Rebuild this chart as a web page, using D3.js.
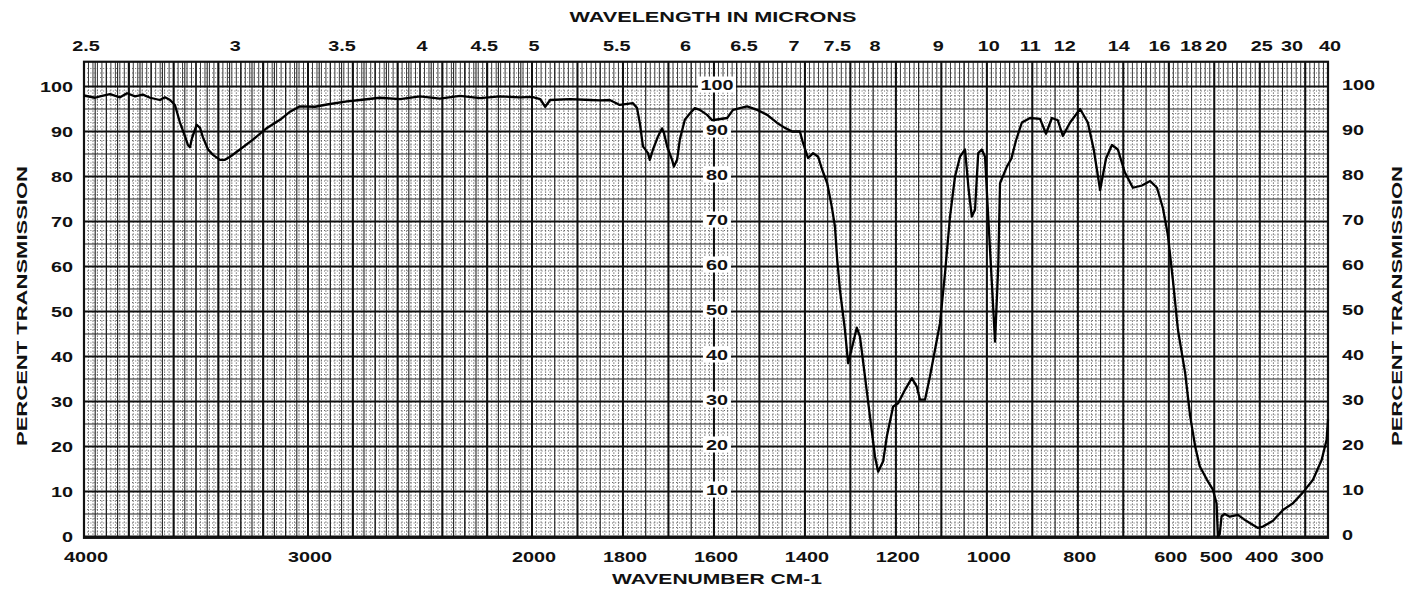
<!DOCTYPE html>
<html><head><meta charset="utf-8">
<script src="https://cdn.jsdelivr.net/npm/d3@7"></script>
<style>body{margin:0;background:#fff} svg{display:block}</style>
</head><body><svg id="c" width="1405" height="590"></svg>
<script>
// ---------- DATA ----------
const wavenumbers = [4000,3951,3929,3884,3839,3808,3772,3737,3705,3661,3638,3616,3594,3571,3549,3536,3527,3518,3497,3482,3469,3446,3424,3393,3371,3348,3304,3246,3183,3125,3080,3036,2969,2915,2826,2768,2679,2589,2500,2411,2321,2232,2143,2054,2000,1982,1971,1960,1916,1872,1850,1829,1807,1778,1769,1763,1756,1745,1741,1734,1723,1714,1710,1703,1692,1688,1681,1675,1664,1653,1642,1631,1615,1604,1571,1558,1543,1527,1505,1483,1461,1444,1428,1411,1404,1393,1382,1371,1362,1351,1341,1334,1329,1323,1312,1305,1294,1286,1279,1268,1257,1246,1239,1228,1220,1206,1195,1180,1165,1154,1147,1136,1125,1114,1103,1092,1081,1070,1059,1048,1040,1033,1026,1019,1011,1004,997,989,982,975,971,956,946,936,923,905,883,870,857,844,833,817,795,778,765,751,738,725,712,697,679,659,641,626,613,602,591,580,564,553,542,532,516,503,495,492,488,484,477,466,448,433,422,404,393,371,349,327,305,283,264,253,250];
const transmission = [98,97.5,97.8,98.3,97.6,98.5,97.8,98.2,97.5,97,97.6,97,95.9,91.9,88.9,87,86.5,88.5,91.5,90.8,88.7,86,84.8,83.7,83.7,84.4,86,88.2,90.8,92.6,94.4,95.6,95.5,96,96.7,97,97.5,97.2,97.8,97.3,97.9,97.4,97.8,97.6,97.7,97.2,95.5,97,97.2,97,96.9,97,95.9,96.3,95.2,91.9,86.7,85.2,83.7,86,88.9,90.7,89.7,86.7,83.7,82.2,83.7,88.2,92.6,94,95.2,94.8,93.7,92.5,93,94.8,95.2,95.6,94.8,93.7,91.9,90.8,90,90,87.4,84.1,85.2,84.4,81.5,78.5,73.3,68.9,61.5,54.8,45.9,38.5,43,46.4,44.4,35.6,26.7,17.8,14.4,16.7,22.2,28.9,29.6,32.6,35.2,33.3,30.4,30.4,35.6,41.5,47.4,58.5,71.1,80,84.4,86,77,71.1,72.6,85.2,86,84.4,71.1,56.3,43.3,60,78.5,82.2,84,88,92,93,92.8,89.5,93,92.5,89,92,95,92,86,77,84,87,86,81,77.5,78,79,77.5,73,67,57,46,36.3,26.7,20,15.6,12.6,10.4,7.4,0,0.5,4.5,5,4.4,4.8,3.7,3,1.9,2.2,3.5,5.9,7.4,9.8,12.6,17,21.5,26];
const wavenumberTicks = [4000,3000,2000,1800,1600,1400,1200,1000,800,600,500,400,300];
const micronTicks = [2.5,3,3.5,4,4.5,5,5.5,6,6.5,7,7.5,8,9,10,11,12,14,16,18,20,25,30,40];
const percentTicks = [0,10,20,30,40,50,60,70,80,90,100];
const innerPercentTicks = [10,20,30,40,50,60,70,80,90,100];

// ---------- SCALES ----------
const svg = d3.select("#c");
const x = d3.scaleLinear().domain([4000, 2000, 250]).range([84, 532, 1328]);
const y = d3.scaleLinear().domain([0, 100]).range([536.5, 86.5]);
const yTop = y(105.5), yBot = y(-0.3);
const FONT = "'Liberation Sans', Arial, sans-serif";
const INK = "#111";

// ---------- GRID ----------
const g = svg.append("g");
function vlines(vals, cls, y1, y2, w, dash, col) {
  g.append("g").selectAll("line").data(vals).join("line")
    .attr("x1", d => x(d)).attr("x2", d => x(d))
    .attr("y1", y1).attr("y2", y2)
    .attr("stroke", col || INK).attr("stroke-width", w)
    .attr("stroke-dasharray", dash || null);
}
function hlines(vals, w, dash, col) {
  g.append("g").selectAll("line").data(vals).join("line")
    .attr("x1", x(4000)).attr("x2", x(250))
    .attr("y1", d => y(d)).attr("y2", d => y(d))
    .attr("stroke", col || INK).attr("stroke-width", w)
    .attr("stroke-dasharray", dash || null);
}
const fineA = d3.range(4000, 2000, -20), fineB = d3.range(2000, 250, -10);
const fine = fineA.concat(fineB);
// dotted fine verticals in body
vlines(fine, "f", y(100), yBot, 0.9, "1.2,1.8", "#333");
// solid fine verticals in top band
vlines(fine, "f2", yTop, y(100), 0.9, null, "#222");
// dotted fine horizontals
hlines(d3.range(1, 105, 1).filter(v => v % 5 !== 0), 0.8, "1,2.2", "#444");
// medium verticals
const midA = d3.range(3900, 2000, -100).concat(d3.range(3950, 2000, -50));
const midB = d3.range(1950, 250, -50);
vlines(midA.concat(midB), "m", yTop, yBot, 1.1, null, "#222");
// medium horizontals (5%)
hlines(d3.range(5, 100, 10), 1.1, null, "#222");
// major verticals
const majA = d3.range(4000, 2000, -200), majB = d3.range(2000, 249, -100);
vlines(majA.concat(majB), "M", yTop, yBot, 2, null, INK);
// major horizontals
hlines(percentTicks, 2, null, INK);
// frame
g.append("rect").attr("x", x(4000)).attr("y", yTop).attr("width", x(250) - x(4000)).attr("height", yBot - yTop)
  .attr("fill", "none").attr("stroke", INK).attr("stroke-width", 2.2);

// ---------- SPECTRUM ----------
const pts = wavenumbers.map((w, i) => [w, transmission[i]]);
svg.append("path").datum(pts)
  .attr("d", d3.line().x(d => x(d[0])).y(d => y(d[1])))
  .attr("fill", "none").attr("stroke", "#000").attr("stroke-width", 2.3)
  .attr("stroke-linejoin", "round");

// ---------- TEXT ----------
const STRETCH = 1.32;
function label(sel, txt, px, py, anchor, size, stretch) {
  const t = sel.append("text").text(txt).attr("x", px).attr("y", py)
    .attr("font-family", FONT).attr("font-weight", "bold").attr("font-size", size || 15)
    .attr("fill", INK).attr("text-anchor", anchor || "middle");
  const L = t.node().getComputedTextLength();
  t.attr("textLength", L * (stretch || STRETCH)).attr("lengthAdjust", "spacingAndGlyphs");
  return t;
}
const T = svg.append("g");
// inner percent labels with white boxes
innerPercentTicks.forEach(v => {
  const cx = x(1600) + 3, cy = y(v) - 2;
  const w = v === 100 ? 34 : 24;
  T.append("rect").attr("x", cx - w / 2 - 2).attr("y", cy - 8).attr("width", w + 4).attr("height", 16).attr("fill", "#fff");
  label(T, String(v), cx, cy + 5.5, "middle");
});
// left & right percent labels
percentTicks.forEach(v => {
  label(T, String(v), 73, y(v) + 5.5, "end");
  label(T, String(v), 1342, y(v) + 3.5, "start");
});
// wavenumber labels
wavenumberTicks.forEach(v => label(T, String(v), x(v) + 2, 561.5, "middle"));
// micron labels
micronTicks.forEach(v => label(T, String(v), x(10000 / v) + 2, 51, "middle"));
// titles
label(T, "WAVELENGTH IN MICRONS", 713, 22, "middle").attr("textLength", 287);
label(T, "WAVENUMBER CM-1", 717, 583.5, "middle").attr("textLength", 210);
label(T, "PERCENT TRANSMISSION", 0, 0, "middle").attr("textLength", 280)
  .attr("transform", "translate(27,306) rotate(-90)");
label(T, "PERCENT TRANSMISSION", 0, 0, "middle").attr("textLength", 280)
  .attr("transform", "translate(1402,306) rotate(-90)");
</script></body></html>
